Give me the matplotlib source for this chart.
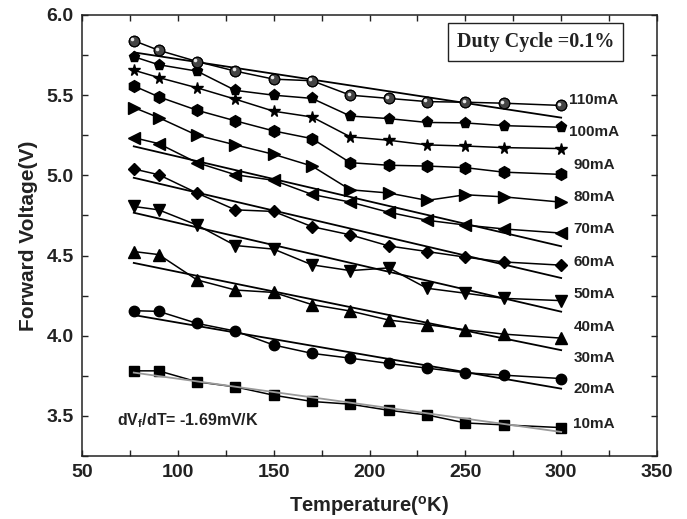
import matplotlib

matplotlib.use("Agg")
import matplotlib.pyplot as plt  # noqa: E402
from matplotlib.ticker import MultipleLocator, FormatStrFormatter  # noqa: E402
from matplotlib.transforms import offset_copy  # noqa: E402

plt.rcParams["font.family"] = ["Liberation Sans", "DejaVu Sans"]
plt.rcParams["font.weight"] = "bold"
plt.rcParams["mathtext.fontset"] = "custom"
plt.rcParams["mathtext.rm"] = "Liberation Sans:bold"
plt.rcParams["mathtext.it"] = "Liberation Sans:bold"
plt.rcParams["mathtext.bf"] = "Liberation Sans:bold"

INK = "#222222"

# temperatures (K)
temps = [77, 90, 110, 130, 150, 170, 190, 210, 230, 250, 270, 300]

# forward voltage per drive current (V), top to bottom
v_110 = [5.84, 5.78, 5.71, 5.65, 5.60, 5.59, 5.50, 5.48, 5.46, 5.456, 5.45, 5.436]
v_100 = [5.74, 5.69, 5.65, 5.53, 5.50, 5.48, 5.37, 5.354, 5.33, 5.327, 5.31, 5.30]
v_90 = [5.656, 5.61, 5.546, 5.475, 5.40, 5.364, 5.24, 5.219, 5.19, 5.183, 5.173, 5.167]
v_80 = [5.558, 5.49, 5.406, 5.34, 5.277, 5.229, 5.079, 5.063, 5.058, 5.048, 5.02, 5.006]
v_70 = [5.423, 5.36, 5.25, 5.19, 5.131, 5.058, 4.91, 4.89, 4.844, 4.879, 4.866, 4.833]
v_60 = [5.235, 5.198, 5.079, 5.004, 4.969, 4.881, 4.833, 4.77, 4.72, 4.69, 4.666, 4.64]
v_50 = [5.04, 5.004, 4.89, 4.785, 4.775, 4.68, 4.629, 4.56, 4.525, 4.49, 4.46, 4.44]
v_40 = [4.806, 4.785, 4.69, 4.5625, 4.54, 4.442, 4.406, 4.423, 4.296, 4.265, 4.233, 4.219]
v_30 = [4.525, 4.506, 4.348, 4.285, 4.27, 4.194, 4.154, 4.098, 4.069, 4.0375, 4.01, 3.985]
v_20 = [4.156, 4.152, 4.077, 4.029, 3.942, 3.89, 3.86, 3.827, 3.798, 3.769, 3.754, 3.733]
v_10 = [3.781, 3.781, 3.7125, 3.681, 3.629, 3.59, 3.573, 3.535, 3.506, 3.456, 3.444, 3.427]

series = [v_110, v_100, v_90, v_80, v_70, v_60, v_50, v_40, v_30, v_20, v_10]
markers = ["o", "p", "*", "h", ">", "<", "D", "v", "^", "o", "s"]
msizes = [7.5, 8, 8.5, 8.5, 8, 8, 6.5, 8, 8, 7.5, 6.5]

current_labels = ["110mA", "100mA", "90mA", "80mA", "70mA", "60mA",
                  "50mA", "40mA", "30mA", "20mA", "10mA"]

# linear fits: which series, value at 77 K and at 300 K
fit_series = [0, 5, 6, 7, 8, 9, 10]
fit_start = [5.767, 5.181, 4.985, 4.767, 4.454, 4.129, 3.77]
fit_end = [5.36, 4.558, 4.36, 4.15, 3.91, 3.67, 3.40]
fit_colors = ["black"] * 6 + ["#9a9a9a"]
fit_x = [77, 300]

fig = plt.figure(figsize=(6.87, 5.19), dpi=100)
ax = fig.add_axes([0.1194, 0.1214, 0.8369, 0.8497])

for v, m, ms in zip(series, markers, msizes):
    ax.plot(temps, v, color="black", lw=1.1, marker=m, ms=ms,
            mfc="black", mec="black", zorder=3)

# shaded-sphere look for the 110 mA markers
ax.plot(temps, v_110, ls="none", marker="o", ms=7.5, mfc="#444444",
        mec="black", mew=0.8, zorder=4)
hl = offset_copy(ax.transData, fig=fig, x=-1.2, y=1.2, units="points")
ax.plot(temps, v_110, ls="none", marker="o", ms=2.6, mfc="#e8e8e8",
        mec="none", transform=hl, zorder=5)

for i, a, b, c in zip(fit_series, fit_start, fit_end, fit_colors):
    ax.plot(fit_x, [a, b], color=c, lw=1.3, zorder=2 if c == "black" else 3.5)

# current labels at the right end
label_x = [304, 304] + [306.4] * 9
label_y = [5.469, 5.271, 5.0625, 4.864, 4.667, 4.458, 4.26, 4.056, 3.861,
           3.667, 3.452]
for lx, ly, s in zip(label_x, label_y, current_labels):
    ax.text(lx, ly, s, fontsize=11, fontweight="bold", color=INK,
            ha="left", va="center")

ax.text(68.3, 3.47, r"dV$_\mathrm{f}$/dT= -1.69mV/K", fontsize=11.5,
        fontweight="bold", color=INK, ha="left", va="center")

ax.text(0.789, 0.938, "Duty Cycle =0.1%", transform=ax.transAxes,
        family=["Liberation Serif", "DejaVu Serif"], fontsize=14.5,
        fontweight="bold", color=INK, ha="center", va="center",
        bbox=dict(boxstyle="square,pad=0.45", fc="white", ec=INK, lw=1.0))

ax.set_xlim(50, 350)
ax.set_ylim(3.25, 6.0)
ax.xaxis.set_major_locator(MultipleLocator(50))
ax.xaxis.set_minor_locator(MultipleLocator(25))
ax.yaxis.set_major_locator(MultipleLocator(0.5))
ax.yaxis.set_minor_locator(MultipleLocator(0.25))
ax.yaxis.set_major_formatter(FormatStrFormatter("%.1f"))
ax.tick_params(which="both", direction="in", top=True, right=True,
               length=4, width=1.0, color=INK, labelsize=14,
               labelcolor=INK, pad=6)
for sp in ax.spines.values():
    sp.set_linewidth(1.1)
    sp.set_color(INK)

ax.set_xlabel(r"Temperature($\mathrm{^o}$K)", fontsize=14.5,
              fontweight="bold", color=INK, labelpad=9)
ax.set_ylabel("Forward Voltage(V)", fontsize=15, fontweight="bold",
              color=INK, labelpad=6)

fig.savefig("out.png", dpi=100, facecolor="white")
